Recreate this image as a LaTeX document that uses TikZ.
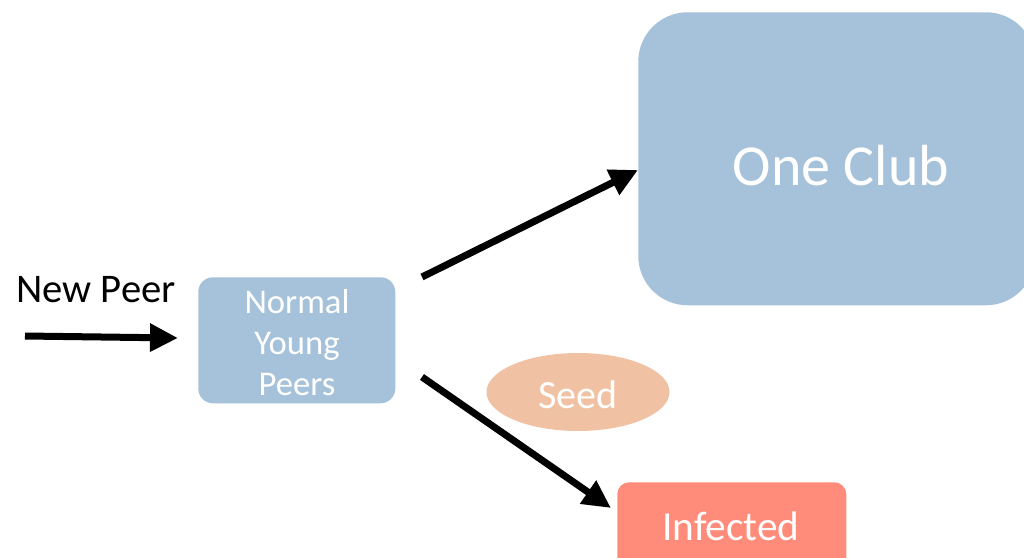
\documentclass[tikz,border=0pt]{standalone}
\usepackage{fontspec}
\setmainfont{Carlito}
\usetikzlibrary{arrows.meta,shapes.geometric}
\definecolor{boxblue}{HTML}{A6C2DA}
\definecolor{seedc}{HTML}{F0C2A3}
\definecolor{infc}{HTML}{FF8C7A}
\tikzset{
  px/.style={x=0.75pt,y=-0.75pt},
  fatarrow/.style={line width=5.25pt,-{Triangle[length=21pt,width=20pt]}},
  bluebox/.style={rectangle,fill=boxblue,draw=none,text=white,inner sep=0pt},
}
\begin{document}
\begin{tikzpicture}[px]
\useasboundingbox (0,0) rectangle (1024,557);
% One Club
\node[bluebox,rounded corners=37pt,minimum width=397*0.75pt,minimum height=293*0.75pt,anchor=north west] (club) at (638,12) {};
\node[text=white,font=\fontsize{43.5pt}{52pt}\selectfont] (clubtxt) at (841,166) {One Club};
% Normal Young Peers
\node[bluebox,rounded corners=11pt,minimum width=197*0.75pt,minimum height=126*0.75pt,anchor=north west] (nyp) at (198,277) {};
\node[text=white,align=center,inner sep=0pt,font=\fontsize{26pt}{30.75pt}\selectfont] (nyptxt) at (297,343) {Normal\\Young\\Peers};
% New Peer
\node[text=black,inner sep=0pt,font=\fontsize{30.5pt}{36pt}\selectfont,anchor=west] (np) at (16,290) {New Peer};
% Seed
\node[ellipse,fill=seedc,draw=none,minimum width=183*0.75pt,minimum height=78*0.75pt,inner sep=0pt] (seed) at (578,392) {};
\node[text=white,font=\fontsize{30pt}{35pt}\selectfont] (seedtxt) at (578,395) {Seed};
% Infected
\node[rectangle,fill=infc,draw=none,rounded corners=9pt,minimum width=229*0.75pt,minimum height=100*0.75pt,anchor=north west,inner sep=0pt] (inf) at (617,482) {};
\node[text=white,font=\fontsize{31pt}{36pt}\selectfont] (inftxt) at (731,526) {Infected};
% arrows
\coordinate (a0) at (25,336);
\coordinate (a1) at (178,338);
\coordinate (b0) at (422,277);
\coordinate (b1) at (638,170);
\coordinate (c0) at (422,377);
\coordinate (c1) at (611,508);
\draw[fatarrow] (a0) -- (a1);
\draw[fatarrow] (b0) -- (b1);
\draw[fatarrow] (c0) -- (c1);
\end{tikzpicture}
\end{document}
